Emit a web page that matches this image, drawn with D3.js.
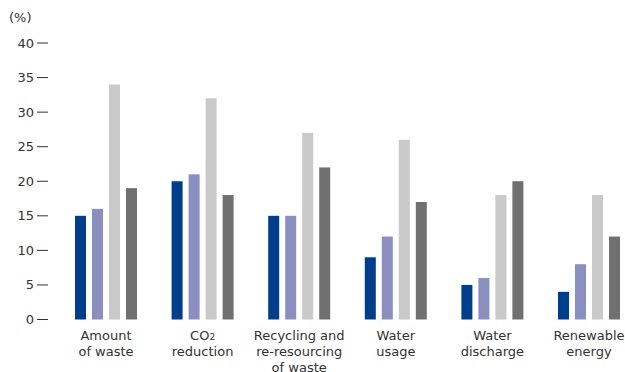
<!DOCTYPE html>
<html>
<head>
<meta charset="utf-8">
<script src="https://cdn.jsdelivr.net/npm/d3@7"></script>
<style>
  body { margin: 0; background: #fff; }
  svg { display: block; font-family: "DejaVu Sans", Verdana, sans-serif; }
</style>
</head>
<body>
<div id="chart"></div>
<script>
// categories (each label split into lines), four series per category
const categories = [
  ["Amount", "of waste"],
  ["CO2", "reduction"],
  ["Recycling and", "re-resourcing", "of waste"],
  ["Water", "usage"],
  ["Water", "discharge"],
  ["Renewable", "energy"]
];
const series1 = [15, 20, 15, 9, 5, 4];
const series2 = [16, 21, 15, 12, 6, 8];
const series3 = [34, 32, 27, 26, 18, 18];
const series4 = [19, 18, 22, 17, 20, 12];
const yTicks = [0, 5, 10, 15, 20, 25, 30, 35, 40];
const colors = ["#003e8b", "#8a8fc0", "#c8c9c8", "#707070"];

const width = 625, height = 372;
const svg = d3.select("#chart").append("svg")
    .attr("width", width)
    .attr("height", height);

const y = d3.scaleLinear().domain([0, 40]).range([319.5, 43]);

const x0 = d3.scaleBand()
    .domain(d3.range(categories.length))
    .range([75, 620])
    .paddingInner(0.358)
    .paddingOuter(0);

const x1 = d3.scaleBand()
    .domain(d3.range(4))
    .range([0, x0.bandwidth()])
    .paddingInner(0.353);

const allSeries = [series1, series2, series3, series4];

// y axis: labels with short dashes to their right
const yAxis = svg.append("g");
yTicks.forEach(function(t) {
  yAxis.append("line")
      .attr("x1", 37).attr("x2", 48)
      .attr("y1", y(t)).attr("y2", y(t))
      .style("stroke", "#333")
      .style("stroke-width", 1);
  yAxis.append("text")
      .attr("x", 34)
      .attr("y", y(t))
      .attr("dy", "0.35em")
      .attr("text-anchor", "end")
      .style("font-size", "13px")
      .style("fill", "#333")
      .text(t);
});

svg.append("text")
    .attr("x", 9)
    .attr("y", 22)
    .style("font-size", "13px")
    .style("fill", "#333")
    .text("(%)");

// bars
const groups = svg.selectAll(".grp")
    .data(categories)
    .join("g")
    .attr("class", "grp")
    .attr("transform", function(d, i) { return "translate(" + x0(i) + ",0)"; });

groups.selectAll("rect")
    .data(function(d, i) { return allSeries.map(function(s, j) { return { s: j, v: s[i] }; }); })
    .join("rect")
    .attr("x", function(d) { return x1(d.s); })
    .attr("y", function(d) { return y(d.v); })
    .attr("width", x1.bandwidth())
    .attr("height", function(d) { return y(0) - y(d.v); })
    .style("fill", function(d) { return colors[d.s]; });

// category labels
groups.each(function(lines) {
  const t = d3.select(this).append("text")
      .attr("text-anchor", "middle")
      .style("font-size", "13px")
      .style("fill", "#333");
  lines.forEach(function(line, k) {
    const ts = t.append("tspan")
        .attr("x", x0.bandwidth() / 2)
        .attr("y", 340 + k * 16);
    if (line === "CO2") {
      ts.text("CO");
      ts.append("tspan").style("font-size", "9px").text("2");
    } else {
      ts.text(line);
    }
  });
});
</script>
</body>
</html>
